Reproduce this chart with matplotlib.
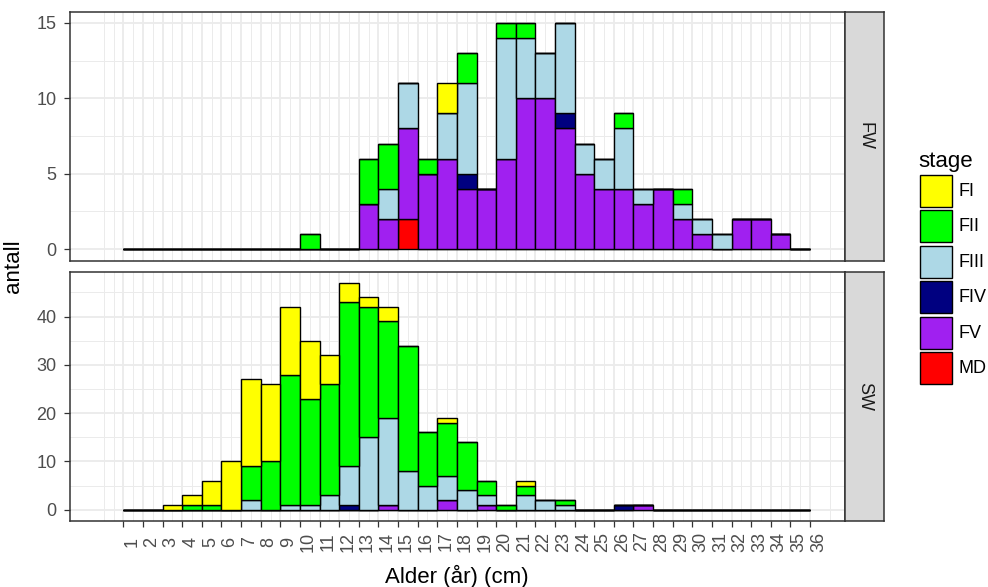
import matplotlib
matplotlib.use('Agg')
import matplotlib.pyplot as plt
from matplotlib.patches import Rectangle
import numpy as np

plt.rcParams['font.family'] = ['Liberation Sans', 'DejaVu Sans']

W, H = 988, 587

# bin k covers [k, k+1)
bins = np.arange(1, 36)
x_ticks = list(range(1, 37))

stages = ['FI', 'FII', 'FIII', 'FIV', 'FV', 'MD']
stage_colors = ['#FFFF00', '#00FF00', '#ADD8E6', '#000080', '#A020F0', '#FF0000']

# counts per length bin, FW facet
fw_fi = {17: 2}
fw_fii = {10: 1, 13: 3, 14: 3, 16: 1, 18: 2, 20: 1, 21: 1, 26: 1, 29: 1}
fw_fiii = {14: 2, 15: 3, 17: 3, 18: 6, 20: 8, 21: 4, 22: 3, 23: 6, 24: 2, 25: 2,
           26: 4, 27: 1, 29: 1, 30: 1, 31: 1}
fw_fiv = {18: 1, 23: 1}
fw_fv = {13: 3, 14: 2, 15: 6, 16: 5, 17: 6, 18: 4, 19: 4, 20: 6, 21: 10, 22: 10,
         23: 8, 24: 5, 25: 4, 26: 4, 27: 3, 28: 4, 29: 2, 30: 1, 32: 2, 33: 2, 34: 1}
fw_md = {15: 2}

# counts per length bin, SW facet
sw_fi = {3: 1, 4: 2, 5: 5, 6: 10, 7: 18, 8: 16, 9: 14, 10: 12, 11: 6, 12: 4,
         13: 2, 14: 3, 17: 1, 21: 1}
sw_fii = {4: 1, 5: 1, 7: 7, 8: 10, 9: 27, 10: 22, 11: 23, 12: 34, 13: 27, 14: 20,
          15: 26, 16: 11, 17: 11, 18: 10, 19: 3, 20: 1, 21: 2, 23: 1}
sw_fiii = {7: 2, 9: 1, 10: 1, 11: 3, 12: 8, 13: 15, 14: 18, 15: 8, 16: 5, 17: 5,
           18: 4, 19: 2, 21: 3, 22: 2, 23: 1}
sw_fiv = {12: 1, 26: 1}
sw_fv = {14: 1, 17: 2, 19: 1, 27: 1}
sw_md = {}

fw_counts = [fw_fi, fw_fii, fw_fiii, fw_fiv, fw_fv, fw_md]
sw_counts = [sw_fi, sw_fii, sw_fiii, sw_fiv, sw_fv, sw_md]

TEXT_GREY = '#4D4D4D'
BORDER = '#333333'
GRID = '#EBEBEB'
TICK_SIZE = 13
TITLE_SIZE = 16


def px_box(x0, y0, x1, y1):
    """ pixel box (top-left origin) -> figure fraction rect """
    return [x0 / W, 1 - y1 / H, (x1 - x0) / W, (y1 - y0) / H]


def plot_facet(ax, counts):
    """ stacked histogram, MD at the bottom, FI on top """
    bottom = np.zeros(len(bins))
    for name, color, c in reversed(list(zip(stages, stage_colors, counts))):
        h = np.array([c.get(b, 0) for b in bins], dtype=float)
        ax.bar(bins, h, width=1, align='edge', bottom=bottom, color=color,
               edgecolor='black', linewidth=1.0, zorder=3)
        bottom += h


def style_panel(ax, ylim, yticks, yminor, show_x):
    ax.set_xlim(-1.72, 37.78)
    ax.set_ylim(*ylim)
    ax.set_xticks(x_ticks)
    ax.set_xticks([0, 0.5] + [k + 0.5 for k in range(1, 36)] + [37], minor=True)
    ax.set_yticks(yticks)
    ax.set_yticks(yminor, minor=True)
    ax.grid(which='major', color=GRID, linewidth=1.3, zorder=0)
    ax.grid(which='minor', color=GRID, linewidth=0.7, zorder=0)
    ax.set_axisbelow(True)
    for s in ax.spines.values():
        s.set_color(BORDER)
        s.set_linewidth(1.1)
    ax.tick_params(which='minor', length=0)
    ax.tick_params(axis='y', which='major', length=4.3, width=0.9, color=BORDER,
                   labelsize=TICK_SIZE, labelcolor=TEXT_GREY, pad=5.5)
    if show_x:
        ax.tick_params(axis='x', which='major', length=4.3, width=0.9, color=BORDER,
                       labelsize=TICK_SIZE, labelcolor=TEXT_GREY, pad=10.5)
        ax.set_xticklabels([str(t) for t in x_ticks], rotation=90, ha='left', va='center')
    else:
        ax.tick_params(axis='x', which='major', length=0, labelbottom=False)


def add_strip(fig, box, label):
    sax = fig.add_axes(px_box(*box))
    sax.set_facecolor('#D9D9D9')
    sax.set_xticks([])
    sax.set_yticks([])
    for s in sax.spines.values():
        s.set_color(BORDER)
        s.set_linewidth(1.1)
    sax.text(0.5, 0.5, label, rotation=-90, ha='center', va='center',
             fontsize=TICK_SIZE, color='#1A1A1A', transform=sax.transAxes)


def add_legend(fig, box):
    """ ggplot-style legend drawn in a pixel-scaled axes """
    lax = fig.add_axes(px_box(*box))
    x0, y0, x1, y1 = box
    lax.set_xlim(x0, x1)
    lax.set_ylim(y1, y0)
    lax.axis('off')
    lax.text(918, 161, 'stage', ha='left', va='center', fontsize=TITLE_SIZE, color='black')
    for i, (name, color) in enumerate(zip(stages, stage_colors)):
        top = 175 + i * 35.4
        lax.add_patch(Rectangle((920, top), 32, 32, facecolor=color,
                                edgecolor='black', linewidth=1.0))
        lax.text(958, top + 16.5, name, ha='left', va='center',
                 fontsize=TICK_SIZE, color='black')


fig = plt.figure(figsize=(W / 100, H / 100), dpi=100)

ax_fw = fig.add_axes(px_box(70, 11.5, 845, 260.5))
plot_facet(ax_fw, fw_counts)
style_panel(ax_fw, (-0.75, 15.75), [0, 5, 10, 15], [2.5, 7.5, 12.5], show_x=False)
add_strip(fig, (845, 11.5, 884, 260.5), 'FW')

ax_sw = fig.add_axes(px_box(70, 271.5, 845, 521))
plot_facet(ax_sw, sw_counts)
style_panel(ax_sw, (-2.35, 49.35), [0, 10, 20, 30, 40], [5, 15, 25, 35, 45], show_x=True)
add_strip(fig, (845, 271.5, 884, 521), 'SW')

fig.text(457 / W, 1 - 576 / H, 'Alder (år) (cm)', ha='center', va='center',
         fontsize=TITLE_SIZE, color='black')
fig.text(14 / W, 1 - 266 / H, 'antall', ha='center', va='center', rotation=90,
         fontsize=TITLE_SIZE, color='black')

add_legend(fig, (905, 140, 988, 400))

fig.savefig('out.png', dpi=100)
